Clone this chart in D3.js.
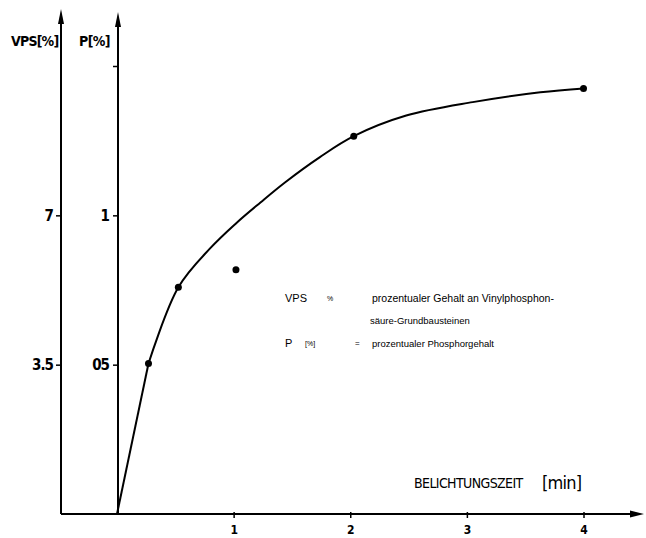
<!DOCTYPE html>
<html><head><meta charset="utf-8">
<script src="https://cdn.jsdelivr.net/npm/d3@7"></script>
<style>
html,body{margin:0;padding:0;background:#fff;}
svg{display:block;}
text{fill:#000;}
</style></head>
<body>
<svg id="chart" width="646" height="538"></svg>
<script>
// ---- data ----
const measuredTime = [0.27, 0.526, 1.02, 2.03, 4.0];      // Belichtungszeit [min]
const measuredP    = [0.504, 0.759, 0.818, 1.265, 1.425]; // P [%]
const curveTime = [0.27, 0.526, 0.80, 1.02, 1.23, 1.44, 1.74, 2.03, 2.48, 3.05, 3.63, 4.0];
const curveP    = [0.504, 0.759, 0.890, 0.973, 1.043, 1.110, 1.195, 1.265, 1.334, 1.379, 1.412, 1.425];
const xTicks = [1, 2, 3, 4];
const pTicks = [0.5, 1, 1.5];
const pTickLabels = ["05", "1", ""];
const vpsTicks = [3.5, 7];
const vpsTickLabels = ["3.5", "7"];

const svg = d3.select("#chart");
const x = d3.scaleLinear().domain([0, 4]).range([117, 583.5]);
const y = d3.scaleLinear().domain([0, 1.5]).range([514, 66]);
const yV = d3.scaleLinear().domain([0, 10.5]).range([514, 66]);

const pAxisX = 118, vAxisX = 61, baseY = 514;
const font = "'DejaVu Sans Condensed','DejaVu Sans',sans-serif";

// axes lines
svg.append("line").attr("x1", vAxisX).attr("x2", 638).attr("y1", baseY).attr("y2", baseY)
  .attr("stroke", "#000").attr("stroke-width", 2);
svg.append("line").attr("x1", vAxisX).attr("x2", vAxisX).attr("y1", baseY).attr("y2", 16)
  .attr("stroke", "#000").attr("stroke-width", 2);
svg.append("line").attr("x1", pAxisX).attr("x2", pAxisX).attr("y1", baseY).attr("y2", 18)
  .attr("stroke", "#000").attr("stroke-width", 2);
// arrowheads
svg.append("path").attr("d", `M644,${baseY} L630,${baseY-3.5} L630,${baseY+3.5} Z`).attr("fill", "#000");
svg.append("path").attr("d", `M${vAxisX},9 L${vAxisX-3},24 L${vAxisX+3},24 Z`).attr("fill", "#000");
svg.append("path").attr("d", `M${pAxisX},12 L${pAxisX-3},27 L${pAxisX+3},27 Z`).attr("fill", "#000");

// x axis ticks via d3 axis
const gx = svg.append("g").attr("transform", `translate(0,${baseY})`)
  .call(d3.axisBottom(x).tickValues(xTicks).tickSize(4).tickPadding(7).tickFormat(d3.format("d")));
gx.select(".domain").remove();
gx.selectAll(".tick line").attr("stroke", "#000").attr("stroke-width", 1.5).attr("y1", -2);
gx.selectAll(".tick text").attr("font-family", font).attr("font-weight", "bold")
  .attr("font-size", 12).attr("fill", "#000");

// P axis ticks
const gp = svg.append("g").attr("transform", `translate(${pAxisX},0)`)
  .call(d3.axisLeft(y).tickValues(pTicks).tickSize(5).tickPadding(4)
    .tickFormat((d, i) => pTickLabels[i]));
gp.select(".domain").remove();
gp.selectAll(".tick line").attr("stroke", "#000").attr("stroke-width", 1.5);
gp.selectAll(".tick text").attr("font-family", font).attr("font-size", 15).attr("font-weight", "bold")
  .attr("fill", "#000").attr("letter-spacing", -1);

// VPS axis ticks
const gv = svg.append("g").attr("transform", `translate(${vAxisX},0)`)
  .call(d3.axisLeft(yV).tickValues(vpsTicks).tickSize(5).tickPadding(3)
    .tickFormat((d, i) => vpsTickLabels[i]));
gv.select(".domain").remove();
gv.selectAll(".tick line").attr("stroke", "#000").attr("stroke-width", 1.5);
gv.selectAll(".tick text").attr("font-family", font).attr("font-size", 15).attr("font-weight", "bold")
  .attr("fill", "#000").attr("letter-spacing", -1);

// axis titles
svg.append("text").attr("x", 11).attr("y", 46).attr("font-family", font).attr("font-weight", "bold")
  .attr("font-size", 14).attr("letter-spacing", -0.8).text("VPS[%]");
svg.append("text").attr("x", 79).attr("y", 46).attr("font-family", font).attr("font-weight", "bold")
  .attr("font-size", 14).attr("letter-spacing", -0.6).text("P[%]");
svg.append("text").attr("x", 414).attr("y", 488).attr("font-family", font)
  .attr("font-size", 14).attr("letter-spacing", -0.6).text("BELICHTUNGSZEIT");
svg.append("text").attr("x", 542).attr("y", 489).attr("font-family", font)
  .attr("font-size", 18).text("[min]").attr("letter-spacing", -0.8);

// curve: straight segment from origin, then smooth curve
const line = d3.line().x(d => x(d[0])).y(d => y(d[1]));
svg.append("path").datum([[0, 0], [curveTime[0], curveP[0]]])
  .attr("d", line).attr("fill", "none").attr("stroke", "#000").attr("stroke-width", 2);
const smooth = d3.line().x(d => x(d[0])).y(d => y(d[1])).curve(d3.curveCatmullRom.alpha(0.5));
svg.append("path").datum(curveTime.map((t, i) => [t, curveP[i]]))
  .attr("d", smooth).attr("fill", "none").attr("stroke", "#000").attr("stroke-width", 2);

// measured points
svg.selectAll("circle.pt").data(measuredTime.map((t, i) => [t, measuredP[i]]))
  .enter().append("circle").attr("class", "pt")
  .attr("cx", d => x(d[0])).attr("cy", d => y(d[1])).attr("r", 3.5).attr("fill", "#000");

// legend
const lf = "'Liberation Sans','DejaVu Sans',sans-serif";
const leg = svg.append("g").attr("font-family", lf).attr("font-size", 9);
leg.append("text").attr("x", 285).attr("y", 302).attr("font-size", 11).text("VPS");
leg.append("text").attr("x", 327).attr("y", 301).attr("font-size", 7).attr("fill", "#999").text("%");
leg.append("text").attr("x", 372).attr("y", 302).attr("font-size", 10.5).text("prozentualer Gehalt an Vinylphosphon-");
leg.append("text").attr("x", 370).attr("y", 324).attr("font-size", 9.5).text("säure-Grundbausteinen");
leg.append("text").attr("x", 285).attr("y", 347).attr("font-size", 11).text("P");
leg.append("text").attr("x", 305).attr("y", 346).attr("font-size", 7).attr("fill", "#999").text("[%]");
leg.append("text").attr("x", 355).attr("y", 346).attr("font-size", 8).attr("fill", "#999").text("=");
leg.append("text").attr("x", 372).attr("y", 347).attr("font-size", 9.5).text("prozentualer Phosphorgehalt");
</script>
</body></html>
